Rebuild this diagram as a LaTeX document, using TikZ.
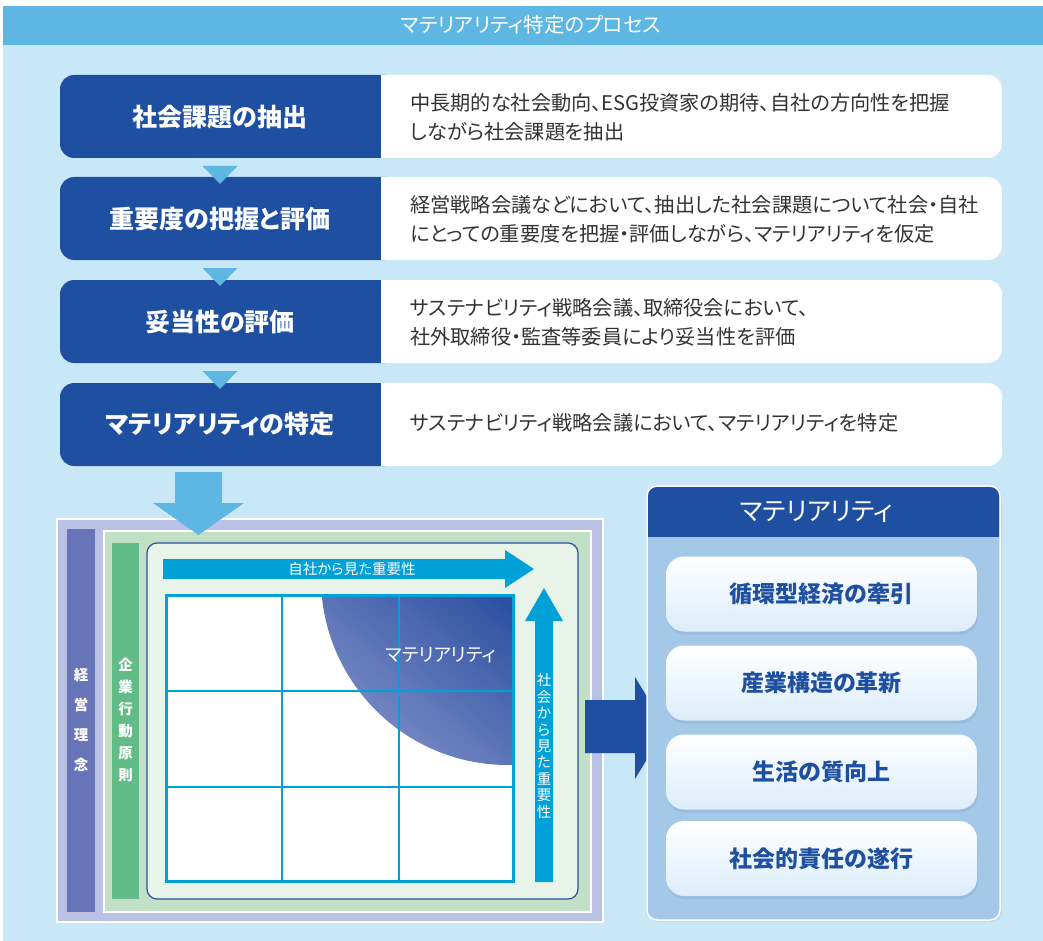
\documentclass[tikz,border=0pt]{standalone}
\usepackage{fontspec}
\setmainfont{Noto Sans CJK JP}[RawFeature=+palt]
\usetikzlibrary{shadows,calc}
\definecolor{hdr}{HTML}{5EB6E2}
\definecolor{bg}{HTML}{C8E8F8}
\definecolor{dblue}{HTML}{1E4FA0}
\definecolor{txt}{HTML}{333333}
\definecolor{lav}{HTML}{B9C1E4}
\definecolor{purp}{HTML}{6874B8}
\definecolor{lgreen}{HTML}{C2E0C6}
\definecolor{mgreen}{HTML}{62BC88}
\definecolor{pale}{HTML}{E8F4EA}
\definecolor{cyanb}{HTML}{00A0D8}
\definecolor{panel}{HTML}{A4C8E8}
\definecolor{matd}{HTML}{2A4FA0}
\definecolor{matl}{HTML}{8A96CC}
\definecolor{itembot}{HTML}{DCEDFA}
\tikzset{
  steplabel/.style={text=white,font=\fontsize{25}{28}\selectfont\bfseries},
  stepdesc/.style={text=txt,anchor=west,align=left,inner sep=0pt,font=\fontsize{20.2}{29}\selectfont},
  itembox/.style={rounded corners=18pt,top color=white,bottom color=itembot,minimum width=311pt,minimum height=75pt,
     text=dblue,font=\fontsize{23}{26}\selectfont\bfseries,
     drop shadow={opacity=0.25,shadow xshift=1pt,shadow yshift=-3pt,fill=dblue!60}},
  vlabel/.style={text=white,align=center,font=\fontsize{14.5}{16.4}\selectfont},
}
\begin{document}
\begin{tikzpicture}[x=1pt,y=-1pt]
\useasboundingbox (0,0) rectangle (1043,941);
\fill[white] (0,0) rectangle (1043,941);
\fill[bg] (3,45) rectangle (1043,941);
\fill[hdr] (3,6) rectangle (1043,45);
\node[text=white,font=\fontsize{20.5}{23}\selectfont] (title) at (531,25) {マテリアリティ特定のプロセス};

% steps
\foreach \t [count=\i] in {75,177,280,383}{
  \fill[white,rounded corners=14pt] (60,\t) rectangle (1002,\t+83);
  \fill[dblue,rounded corners=14pt] (60,\t) rectangle (400,\t+83);
  \fill[white] (381,\t) rectangle (410,\t+83);
}
\node[steplabel] (s1) at (220,117) {社会課題の抽出};
\node[steplabel] (s2) at (220,219) {重要度の把握と評価};
\node[steplabel] (s3) at (220,322) {妥当性の評価};
\node[steplabel] (s4) at (220,424) {マテリアリティの特定};
\node[stepdesc] (d1) at (410,117) {中長期的な社会動向、ESG投資家の期待、自社の方向性を把握\\しながら社会課題を抽出};
\node[stepdesc] (d2) at (410,219) {経営戦略会議などにおいて、抽出した社会課題について社会・自社\\にとっての重要度を把握・評価しながら、マテリアリティを仮定};
\node[stepdesc] (d3) at (410,322) {サステナビリティ戦略会議、取締役会において、\\社外取締役・監査等委員により妥当性を評価};
\node[stepdesc] (d4) at (410,423) {サステナビリティ戦略会議において、マテリアリティを特定};
% small triangles
\foreach \t in {166,268,371}{
  \fill[hdr] (202.5,\t) -- (237.5,\t) -- (220,\t+18) -- cycle;
}

% left matrix frame
\fill[lav,draw=white,line width=1.5pt] (57,519) rectangle (603,922);
\node[fill=purp,minimum width=28pt,minimum height=383pt,inner sep=0pt] (kei) at (81,720.5) {};
\node[text=white,align=center,font=\fontsize{14.5}{30}\selectfont\bfseries] (keit) at (81,720) {経\\営\\理\\念};
\fill[lgreen,draw=white,line width=1.5pt] (104,531) rectangle (591,912);
\node[fill=mgreen,minimum width=27pt,minimum height=356pt,inner sep=0pt] (kig) at (125.5,721) {};
\node[text=white,align=center,font=\fontsize{14.5}{22}\selectfont\bfseries] (kigt) at (125.5,720) {企\\業\\行\\動\\原\\則};
\node[fill=pale,draw=matd,line width=1.2pt,rounded corners=10pt,minimum width=431pt,minimum height=356pt,inner sep=0pt] (inner) at (362.5,721) {};

% horizontal arrow
\fill[cyanb] (163,559) -- (505,559) -- (505,550) -- (534,569) -- (505,588) -- (505,579) -- (163,579) -- cycle;
\node[text=white,font=\fontsize{14.5}{16}\selectfont] (harr) at (352,568.5) {自社から見た重要性};
% vertical arrow
\fill[cyanb] (535,882) -- (535,621) -- (525,621) -- (544,588) -- (563,621) -- (553,621) -- (553,882) -- cycle;
\node[vlabel] (varr) at (544,746) {社\\会\\か\\ら\\見\\た\\重\\要\\性};

% grid
\fill[white] (165,594) rectangle (515,883);
\begin{scope}
  \clip (166,595) rectangle (514,882);
  \clip (508,578) circle (187);
  \shade[shading=axis,top color=matd,bottom color=matl,shading angle=-40] (300,560) rectangle (540,790);
\end{scope}
\draw[cyanb,line width=2pt] (281.5,594) -- (281.5,883) (398.5,594) -- (398.5,883)
  (165,691) -- (515,691) (165,787) -- (515,787);
\draw[cyanb,line width=3pt] (166.5,595.5) rectangle (513.5,881.5);
\node[text=white,font=\fontsize{18.5}{21}\selectfont] (matlbl) at (441,655) {マテリアリティ};

% down arrow
\fill[hdr] (175,472) -- (222,472) -- (222,503) -- (244,503) -- (198.5,535) -- (153,503) -- (175,503) -- cycle;

% right arrow
\fill[dblue] (585,700) -- (635,700) -- (635,677) -- (666,728) -- (635,779) -- (635,753) -- (585,753) -- cycle;

% right panel
\node[fill=panel,draw=white,line width=1.5pt,rounded corners=10pt,minimum width=353pt,minimum height=434pt,inner sep=0pt,
  drop shadow={opacity=0.12,shadow xshift=2pt,shadow yshift=-2pt}] (pan) at (823.5,703) {};
\begin{scope}
  \clip[rounded corners=9pt] (648,487) rectangle (999,919);
  \fill[dblue] (640,480) rectangle (1005,537);
\end{scope}
\node[text=white,font=\fontsize{25.5}{28}\selectfont] (panh) at (816.5,512) {マテリアリティ};
\node[itembox] (m1) at (821.5,594) {循環型経済の牽引};
\node[itembox] (m2) at (821.5,683) {産業構造の革新};
\node[itembox] (m3) at (821.5,772) {生活の質向上};
\node[itembox] (m4) at (821.5,858.5) {社会的責任の遂行};
\end{tikzpicture}
\end{document}
